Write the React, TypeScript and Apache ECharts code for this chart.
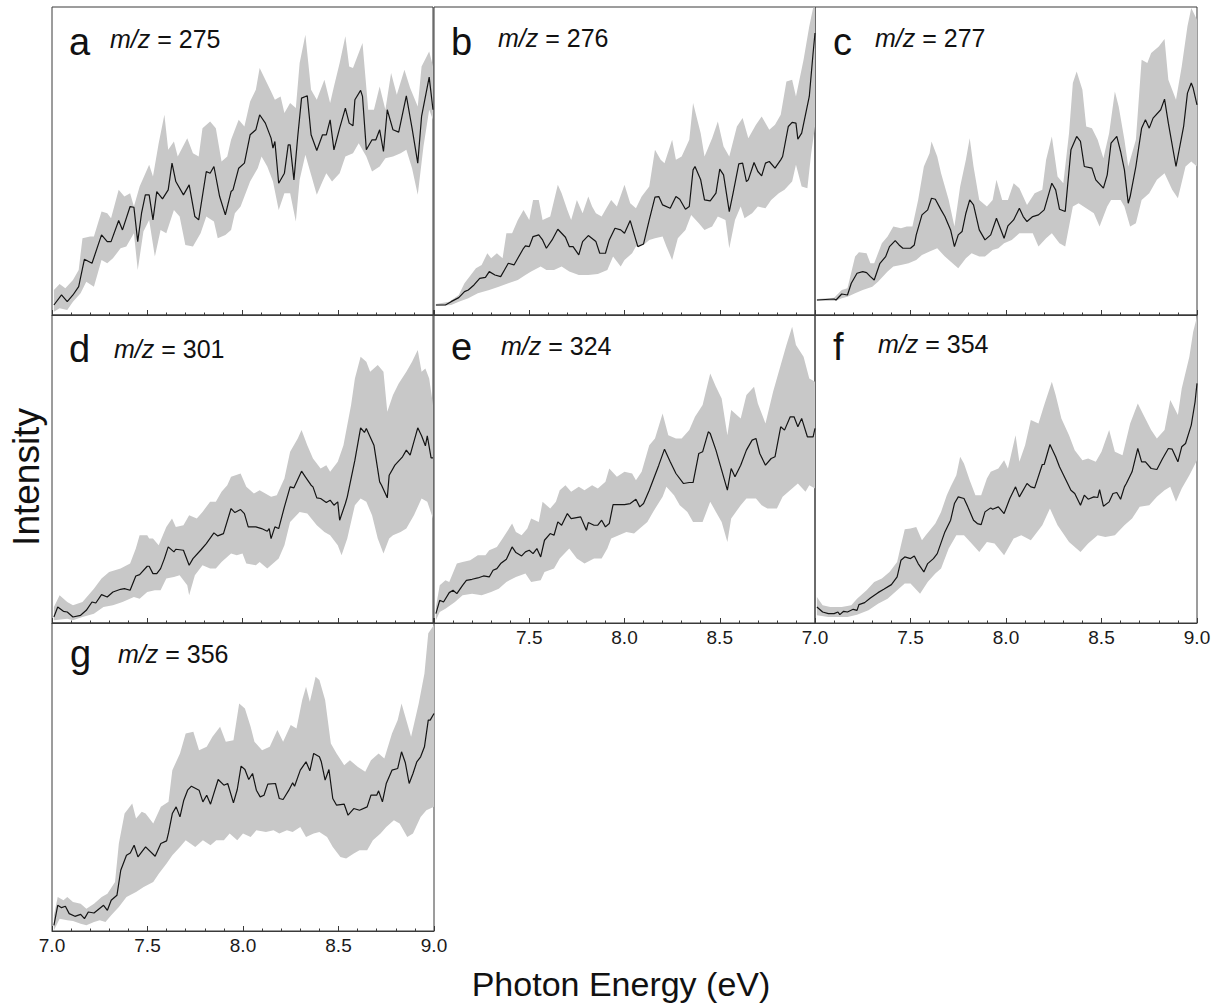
import React, { useEffect, useRef } from 'react';
import * as echarts from 'echarts';

const FONT = '"Liberation Sans", Arial, Helvetica, sans-serif';

// Axis settings
const X_MIN = 7.0;
const X_MAX = 9.0;
const X_MAJOR = 0.5;
const Y_MAX = 92.3; // arbitrary intensity units

const LETTERS = ['a', 'b', 'c', 'd', 'e', 'f', 'g'];
const MZ = [275, 276, 277, 301, 324, 354, 356];

// ---- panel a, m/z 275 ----
const A_MEAN = [[7.01,3.0],[7.05,6.0],[7.08,4.0],[7.11,6.0],[7.14,8.5],[7.17,16.7],[7.21,15.5],[7.26,24.0],[7.29,22.0],[7.31,22.0],[7.35,28.3],[7.37,25.5],[7.41,32.5],[7.43,32.3],[7.45,22.0],[7.47,30.5],[7.49,36.0],[7.51,36.0],[7.53,28.5],[7.55,37.0],[7.58,34.8],[7.61,37.5],[7.63,45.5],[7.65,40.0],[7.69,36.0],[7.72,39.0],[7.75,29.5],[7.77,28.5],[7.81,43.0],[7.83,42.5],[7.85,44.5],[7.88,35.5],[7.91,30.0],[7.94,37.0],[7.95,37.5],[7.98,44.0],[8.01,45.5],[8.04,54.0],[8.07,55.5],[8.09,60.0],[8.12,57.5],[8.15,53.0],[8.16,50.0],[8.17,52.0],[8.19,39.5],[8.22,42.5],[8.24,51.0],[8.25,51.0],[8.27,40.5],[8.29,53.5],[8.31,65.0],[8.34,65.7],[8.36,54.0],[8.39,49.3],[8.42,54.0],[8.44,54.0],[8.46,58.5],[8.48,49.5],[8.51,56.0],[8.54,62.0],[8.56,57.5],[8.58,56.7],[8.59,64.5],[8.62,67.3],[8.63,65.5],[8.65,49.5],[8.68,52.5],[8.70,52.5],[8.72,55.5],[8.74,49.0],[8.76,61.5],[8.79,55.5],[8.82,54.8],[8.86,65.7],[8.89,56.0],[8.92,45.5],[8.94,59.5],[8.98,71.3],[9.00,61.5]];
const A_UPPER = [[7.01,7.5],[7.04,9.3],[7.07,8.0],[7.11,10.5],[7.14,13.5],[7.16,23.0],[7.20,23.5],[7.22,23.5],[7.26,31.0],[7.29,30.5],[7.31,29.0],[7.35,37.5],[7.38,35.5],[7.41,36.5],[7.43,32.5],[7.46,38.5],[7.51,45.0],[7.53,41.5],[7.56,51.5],[7.59,60.0],[7.61,49.5],[7.64,52.0],[7.66,47.5],[7.71,53.0],[7.74,48.5],[7.77,47.5],[7.79,56.0],[7.83,58.0],[7.86,56.0],[7.89,46.0],[7.92,47.5],[7.94,52.5],[7.98,58.5],[8.01,56.5],[8.04,64.0],[8.07,67.5],[8.09,74.0],[8.12,70.5],[8.15,67.0],[8.17,64.5],[8.20,65.5],[8.22,60.5],[8.25,63.5],[8.28,62.0],[8.30,75.5],[8.33,84.0],[8.36,67.5],[8.39,64.5],[8.43,70.5],[8.46,63.5],[8.48,68.5],[8.51,75.5],[8.54,83.5],[8.56,74.5],[8.58,74.0],[8.61,78.5],[8.63,81.5],[8.66,61.5],[8.69,61.5],[8.72,68.5],[8.75,61.5],[8.78,72.5],[8.81,66.0],[8.85,73.5],[8.88,68.0],[8.92,62.5],[8.94,74.5],[8.98,79.0],[9.00,74.5]];
const A_LOWER = [[7.01,1.0],[7.04,2.0],[7.08,1.5],[7.11,4.0],[7.15,6.5],[7.18,10.0],[7.22,8.5],[7.26,16.5],[7.29,15.5],[7.32,17.0],[7.36,20.0],[7.39,20.5],[7.43,24.5],[7.45,13.5],[7.48,25.0],[7.51,28.5],[7.54,17.5],[7.57,25.5],[7.60,24.5],[7.64,31.5],[7.67,29.5],[7.70,21.0],[7.74,20.5],[7.78,24.5],[7.81,29.5],[7.85,28.0],[7.87,23.0],[7.91,24.0],[7.94,25.5],[7.96,30.5],[7.99,32.5],[8.04,40.0],[8.08,44.0],[8.10,47.5],[8.13,44.5],[8.16,40.0],[8.19,31.5],[8.22,36.5],[8.25,36.5],[8.28,28.0],[8.30,40.5],[8.33,48.0],[8.36,42.0],[8.39,36.0],[8.42,40.0],[8.44,42.5],[8.47,40.0],[8.51,42.5],[8.54,47.5],[8.58,48.5],[8.61,51.5],[8.65,47.5],[8.68,43.0],[8.72,44.5],[8.75,47.0],[8.79,47.5],[8.83,48.5],[8.86,49.5],[8.89,44.0],[8.92,36.0],[8.95,50.5],[8.98,61.5],[9.00,58.5]];

// ---- panel b, m/z 276 ----
const B_MEAN = [[7.01,3.0],[7.06,3.0],[7.09,4.0],[7.13,5.2],[7.16,7.0],[7.18,7.5],[7.21,9.0],[7.24,11.0],[7.27,11.3],[7.29,13.0],[7.32,12.0],[7.35,11.5],[7.37,13.5],[7.39,15.5],[7.42,15.0],[7.44,17.0],[7.47,20.0],[7.48,20.7],[7.50,20.5],[7.52,23.5],[7.55,24.0],[7.57,22.5],[7.59,20.0],[7.62,22.5],[7.65,25.7],[7.69,23.3],[7.71,20.5],[7.73,20.5],[7.76,18.0],[7.78,22.0],[7.81,23.8],[7.85,22.0],[7.87,18.5],[7.90,18.5],[7.92,22.5],[7.95,26.0],[7.98,25.5],[8.00,24.5],[8.03,28.3],[8.07,20.5],[8.10,21.3],[8.13,28.5],[8.16,35.3],[8.18,35.5],[8.20,33.0],[8.24,32.0],[8.27,35.5],[8.29,34.7],[8.32,31.7],[8.34,32.5],[8.36,43.5],[8.37,44.5],[8.40,40.5],[8.42,34.5],[8.45,34.2],[8.48,36.5],[8.50,43.7],[8.52,42.0],[8.55,31.0],[8.57,36.5],[8.60,45.3],[8.62,45.5],[8.64,40.0],[8.65,40.5],[8.68,45.7],[8.70,43.0],[8.72,41.7],[8.74,45.5],[8.76,46.0],[8.79,44.0],[8.82,46.5],[8.83,47.5],[8.86,56.5],[8.88,57.7],[8.90,57.5],[8.91,52.7],[8.93,54.5],[8.97,65.5],[8.99,78.5],[9.00,84.5]];
const B_UPPER = [[7.01,3.3],[7.08,4.0],[7.13,6.0],[7.16,9.5],[7.20,12.5],[7.22,14.0],[7.25,15.0],[7.28,18.5],[7.30,17.0],[7.33,18.5],[7.36,17.0],[7.38,24.5],[7.41,24.5],[7.44,28.5],[7.47,31.5],[7.50,28.5],[7.52,34.5],[7.55,34.5],[7.57,28.5],[7.61,29.5],[7.65,39.0],[7.67,36.5],[7.70,31.5],[7.72,28.5],[7.75,34.5],[7.78,30.5],[7.81,35.5],[7.83,32.5],[7.85,30.5],[7.88,29.5],[7.91,32.5],[7.93,34.5],[7.96,32.5],[8.00,39.0],[8.03,33.5],[8.06,32.0],[8.09,35.5],[8.13,38.5],[8.16,49.5],[8.19,46.5],[8.21,45.5],[8.25,52.5],[8.27,46.5],[8.30,47.5],[8.34,52.5],[8.36,63.5],[8.40,54.5],[8.42,47.5],[8.46,53.0],[8.49,58.0],[8.52,50.5],[8.55,47.5],[8.59,56.5],[8.62,59.0],[8.65,53.0],[8.69,57.0],[8.72,59.5],[8.76,55.5],[8.79,57.0],[8.82,60.0],[8.85,70.0],[8.88,70.5],[8.90,65.5],[8.94,76.5],[8.97,86.5],[8.99,92.0],[9.00,92.3]];
const B_LOWER = [[7.01,2.7],[7.09,3.0],[7.13,4.0],[7.18,5.0],[7.23,6.5],[7.29,7.5],[7.34,8.5],[7.39,9.5],[7.44,10.5],[7.48,12.0],[7.51,13.0],[7.56,14.5],[7.59,13.5],[7.63,13.5],[7.67,14.5],[7.71,13.0],[7.76,12.0],[7.81,12.0],[7.86,12.3],[7.91,13.5],[7.94,17.5],[7.98,14.5],[8.00,16.5],[8.04,18.5],[8.06,20.5],[8.10,21.0],[8.13,22.5],[8.16,23.0],[8.20,23.5],[8.22,20.5],[8.25,16.5],[8.28,23.0],[8.32,25.5],[8.35,30.0],[8.39,27.5],[8.42,25.5],[8.46,26.5],[8.49,29.5],[8.53,28.5],[8.55,20.0],[8.58,28.5],[8.61,32.5],[8.63,29.0],[8.67,30.5],[8.70,32.5],[8.74,32.0],[8.77,34.5],[8.81,36.5],[8.84,37.5],[8.88,40.0],[8.90,45.0],[8.93,38.5],[8.96,38.0],[8.98,48.5],[9.00,56.5]];

// ---- panel c, m/z 277 ----
const C_MEAN = [[7.01,4.5],[7.10,4.8],[7.11,4.5],[7.14,6.3],[7.17,6.0],[7.19,9.5],[7.22,12.5],[7.25,13.0],[7.27,12.7],[7.29,11.5],[7.31,10.5],[7.34,15.5],[7.37,17.5],[7.39,20.5],[7.42,22.3],[7.44,21.0],[7.46,20.0],[7.50,20.0],[7.52,21.0],[7.53,24.0],[7.56,30.0],[7.59,31.5],[7.61,35.0],[7.63,34.7],[7.66,31.5],[7.68,29.5],[7.71,25.5],[7.73,20.5],[7.75,24.0],[7.77,25.0],[7.79,30.5],[7.81,34.5],[7.83,33.0],[7.86,25.5],[7.89,22.5],[7.92,24.0],[7.95,29.0],[7.99,23.0],[8.01,26.7],[8.04,28.5],[8.07,32.0],[8.09,29.5],[8.11,28.0],[8.14,29.5],[8.17,30.0],[8.20,31.5],[8.24,39.5],[8.26,37.5],[8.28,31.7],[8.31,31.0],[8.34,49.5],[8.37,53.5],[8.39,52.0],[8.41,44.5],[8.45,44.0],[8.47,40.5],[8.51,38.0],[8.53,42.0],[8.55,51.5],[8.58,53.5],[8.60,49.0],[8.62,43.5],[8.64,33.5],[8.65,35.5],[8.68,44.5],[8.71,56.0],[8.73,58.5],[8.75,56.0],[8.77,59.0],[8.81,61.5],[8.83,64.7],[8.85,57.5],[8.89,44.5],[8.93,56.5],[8.95,66.5],[8.97,69.5],[8.98,68.0],[9.00,63.0]];
const C_UPPER = [[7.01,4.8],[7.10,5.2],[7.14,7.5],[7.17,8.0],[7.21,17.5],[7.23,18.8],[7.27,18.5],[7.29,15.5],[7.31,15.5],[7.35,21.5],[7.38,23.5],[7.41,26.5],[7.45,26.0],[7.48,26.5],[7.51,26.5],[7.54,34.5],[7.57,44.5],[7.60,48.5],[7.61,52.0],[7.64,47.5],[7.66,42.5],[7.70,34.5],[7.73,26.5],[7.76,38.5],[7.79,46.5],[7.81,53.0],[7.83,44.5],[7.86,34.5],[7.90,32.5],[7.93,34.5],[7.95,40.5],[7.98,34.5],[8.01,34.5],[8.04,39.5],[8.07,38.0],[8.11,33.0],[8.15,36.5],[8.19,37.5],[8.21,46.5],[8.24,53.5],[8.27,41.5],[8.30,39.5],[8.33,54.5],[8.35,69.5],[8.37,73.0],[8.40,67.5],[8.42,56.5],[8.45,56.0],[8.48,52.5],[8.51,47.0],[8.54,54.5],[8.57,67.0],[8.59,62.5],[8.62,52.5],[8.64,44.5],[8.68,52.5],[8.71,76.5],[8.74,75.5],[8.76,78.5],[8.80,80.5],[8.83,82.7],[8.85,70.5],[8.89,64.5],[8.92,74.5],[8.95,86.5],[8.97,92.0],[9.00,88.5]];
const C_LOWER = [[7.01,4.2],[7.11,4.3],[7.14,5.0],[7.17,5.5],[7.21,6.5],[7.25,7.5],[7.30,8.5],[7.33,10.0],[7.38,13.0],[7.41,14.5],[7.45,15.0],[7.49,15.5],[7.53,16.5],[7.56,18.0],[7.60,19.0],[7.64,20.0],[7.68,17.5],[7.72,15.5],[7.75,14.0],[7.79,17.0],[7.82,18.5],[7.86,17.5],[7.89,17.5],[7.93,19.5],[7.96,20.0],[7.99,21.5],[8.03,22.5],[8.07,24.5],[8.10,24.5],[8.14,24.5],[8.17,20.5],[8.21,23.0],[8.24,24.5],[8.28,21.5],[8.31,20.5],[8.35,32.5],[8.38,33.5],[8.42,32.0],[8.46,30.5],[8.49,26.5],[8.53,32.5],[8.55,34.5],[8.60,34.5],[8.62,32.5],[8.65,26.5],[8.68,27.5],[8.71,34.5],[8.75,36.5],[8.79,40.5],[8.83,42.5],[8.87,37.5],[8.90,35.0],[8.94,44.5],[8.97,46.0],[9.00,44.5]];

// ---- panel d, m/z 301 ----
const D_MEAN = [[7.01,1.8],[7.03,4.8],[7.06,3.5],[7.08,3.3],[7.11,1.8],[7.15,2.3],[7.18,3.8],[7.21,6.3],[7.23,6.0],[7.26,8.5],[7.29,7.8],[7.32,9.3],[7.36,10.1],[7.38,10.3],[7.41,9.8],[7.44,14.1],[7.46,14.5],[7.50,17.0],[7.51,17.0],[7.53,14.8],[7.55,14.8],[7.57,16.3],[7.59,19.3],[7.61,22.8],[7.64,21.3],[7.65,22.1],[7.69,21.8],[7.72,17.3],[7.74,19.3],[7.78,21.8],[7.81,23.8],[7.85,27.0],[7.87,26.1],[7.90,26.8],[7.94,34.3],[7.96,33.1],[7.99,34.0],[8.01,32.8],[8.03,28.8],[8.07,28.8],[8.10,28.3],[8.13,27.5],[8.14,28.3],[8.15,25.3],[8.17,28.8],[8.19,28.3],[8.22,34.8],[8.25,40.8],[8.27,40.5],[8.31,45.5],[8.33,43.8],[8.36,41.3],[8.37,40.8],[8.39,37.5],[8.41,37.3],[8.44,36.1],[8.46,36.8],[8.48,35.3],[8.50,36.3],[8.51,30.8],[8.54,35.8],[8.55,37.8],[8.59,48.8],[8.62,58.5],[8.64,57.1],[8.65,58.3],[8.69,53.3],[8.72,42.3],[8.73,41.3],[8.76,37.5],[8.77,44.3],[8.80,47.3],[8.84,49.8],[8.86,51.8],[8.88,50.3],[8.92,58.5],[8.94,56.1],[8.96,53.1],[8.97,56.1],[8.99,49.5],[9.00,49.5]];
const D_UPPER = [[7.01,4.8],[7.04,8.3],[7.08,6.3],[7.11,5.3],[7.16,6.3],[7.22,10.3],[7.26,13.3],[7.30,15.3],[7.36,16.3],[7.41,17.8],[7.44,22.3],[7.46,26.3],[7.50,26.3],[7.51,25.3],[7.53,25.3],[7.56,23.3],[7.60,28.8],[7.63,31.3],[7.65,28.8],[7.69,29.3],[7.72,32.3],[7.76,31.3],[7.79,33.3],[7.83,36.3],[7.86,36.3],[7.89,39.3],[7.92,41.3],[7.94,43.8],[7.99,44.8],[8.02,40.8],[8.06,38.8],[8.09,39.8],[8.15,37.8],[8.18,38.3],[8.22,43.3],[8.25,51.3],[8.29,55.3],[8.31,57.8],[8.34,53.3],[8.37,49.3],[8.41,46.3],[8.44,47.3],[8.46,45.3],[8.50,48.3],[8.53,53.3],[8.57,65.3],[8.59,73.3],[8.62,79.8],[8.65,78.3],[8.67,75.3],[8.71,77.3],[8.74,75.3],[8.76,63.3],[8.79,68.3],[8.82,71.8],[8.86,75.3],[8.89,78.3],[8.92,81.8],[8.94,75.3],[8.96,76.3],[8.98,73.3],[9.00,65.3]];
const D_LOWER = [[7.01,0.8],[7.08,1.3],[7.11,0.8],[7.16,1.8],[7.22,2.8],[7.27,4.8],[7.32,5.3],[7.37,6.3],[7.43,7.8],[7.46,7.3],[7.50,9.3],[7.54,9.8],[7.57,9.8],[7.60,13.3],[7.64,13.8],[7.67,14.3],[7.71,11.3],[7.72,8.3],[7.75,14.3],[7.79,17.3],[7.83,16.3],[7.86,16.3],[7.89,18.3],[7.94,20.8],[7.97,20.3],[8.00,20.8],[8.02,17.8],[8.07,17.3],[8.09,18.3],[8.13,16.3],[8.16,17.8],[8.19,19.3],[8.22,23.3],[8.25,30.3],[8.30,33.3],[8.34,32.8],[8.39,29.3],[8.43,27.3],[8.46,26.3],[8.50,23.3],[8.52,20.3],[8.55,25.3],[8.59,35.3],[8.62,37.3],[8.65,36.3],[8.68,32.3],[8.71,25.3],[8.74,20.8],[8.77,25.3],[8.79,26.3],[8.83,27.3],[8.86,28.3],[8.90,32.3],[8.94,37.3],[8.97,36.3],[9.00,31.3]];

// ---- panel e, m/z 324 ----
const E_MEAN = [[7.01,2.8],[7.03,6.8],[7.05,6.3],[7.08,9.1],[7.10,9.8],[7.12,8.8],[7.15,11.3],[7.17,12.8],[7.20,13.1],[7.23,13.5],[7.26,14.1],[7.29,13.8],[7.31,15.8],[7.33,16.3],[7.35,17.8],[7.38,19.1],[7.41,22.8],[7.43,21.1],[7.46,20.1],[7.48,21.3],[7.50,21.8],[7.52,20.8],[7.54,22.3],[7.56,19.8],[7.58,24.8],[7.61,26.8],[7.63,26.3],[7.65,30.3],[7.67,29.3],[7.70,32.8],[7.72,31.3],[7.77,31.8],[7.80,27.8],[7.81,30.1],[7.84,29.3],[7.86,29.3],[7.88,30.8],[7.90,28.8],[7.92,29.8],[7.94,35.5],[8.00,35.5],[8.03,35.8],[8.06,37.1],[8.08,34.8],[8.10,35.8],[8.13,39.8],[8.18,47.3],[8.21,52.1],[8.24,48.3],[8.27,44.8],[8.31,41.8],[8.34,42.1],[8.36,42.1],[8.39,50.8],[8.41,51.3],[8.44,57.3],[8.45,56.8],[8.48,51.8],[8.51,45.8],[8.54,39.8],[8.56,46.3],[8.58,43.8],[8.61,47.3],[8.64,51.8],[8.67,54.8],[8.69,55.3],[8.71,50.8],[8.74,47.3],[8.77,49.3],[8.79,49.8],[8.82,58.8],[8.84,57.8],[8.87,61.8],[8.89,61.8],[8.91,58.8],[8.93,61.3],[8.96,55.8],[8.99,55.8],[9.00,58.3]];
const E_UPPER = [[7.01,4.8],[7.03,11.3],[7.06,12.8],[7.08,12.3],[7.12,17.8],[7.15,18.3],[7.19,18.8],[7.23,20.3],[7.27,20.3],[7.29,21.8],[7.33,22.8],[7.36,25.3],[7.41,29.8],[7.43,27.3],[7.46,26.3],[7.49,28.3],[7.51,31.3],[7.55,30.3],[7.57,36.3],[7.61,34.3],[7.64,36.3],[7.66,39.8],[7.69,41.3],[7.72,39.3],[7.76,40.8],[7.79,39.8],[7.83,41.3],[7.86,40.3],[7.90,42.3],[7.92,46.3],[7.96,43.8],[8.00,45.3],[8.04,44.8],[8.06,42.8],[8.09,45.3],[8.13,53.3],[8.16,55.3],[8.20,62.8],[8.23,56.3],[8.27,55.3],[8.30,55.3],[8.34,57.8],[8.37,61.8],[8.41,65.3],[8.45,74.8],[8.48,70.8],[8.51,67.3],[8.54,56.3],[8.56,63.8],[8.61,61.3],[8.64,68.3],[8.68,70.8],[8.70,65.8],[8.74,59.8],[8.78,69.3],[8.82,77.3],[8.85,83.3],[8.88,88.8],[8.90,83.3],[8.94,79.8],[8.97,73.3],[9.00,72.3]];
const E_LOWER = [[7.01,0.8],[7.03,3.3],[7.06,4.3],[7.11,6.3],[7.15,8.3],[7.20,8.8],[7.25,8.3],[7.30,9.3],[7.34,10.3],[7.38,12.3],[7.43,13.8],[7.48,14.8],[7.51,12.3],[7.56,12.8],[7.58,15.3],[7.63,16.3],[7.66,19.3],[7.71,22.3],[7.75,19.3],[7.79,17.8],[7.84,19.3],[7.88,19.3],[7.91,22.3],[7.93,25.3],[7.97,26.3],[8.01,27.3],[8.05,26.8],[8.08,28.3],[8.12,30.3],[8.15,33.3],[8.20,37.8],[8.22,40.8],[8.26,38.3],[8.29,35.3],[8.33,33.3],[8.36,30.3],[8.41,30.3],[8.45,36.3],[8.48,33.3],[8.51,30.3],[8.54,24.3],[8.56,31.3],[8.61,35.3],[8.64,37.3],[8.69,37.3],[8.72,35.3],[8.75,34.3],[8.80,34.3],[8.83,37.8],[8.88,40.3],[8.91,41.8],[8.95,39.3],[8.97,41.3],[9.00,40.3]];

// ---- panel f, m/z 354 ----
const F_MEAN = [[7.01,4.8],[7.04,3.3],[7.07,2.8],[7.10,2.8],[7.12,3.3],[7.13,2.5],[7.15,3.5],[7.17,3.3],[7.20,4.1],[7.22,3.8],[7.23,5.5],[7.26,6.1],[7.29,7.5],[7.33,9.1],[7.36,10.1],[7.40,11.5],[7.43,13.8],[7.45,18.8],[7.47,19.8],[7.50,19.3],[7.52,20.1],[7.54,17.8],[7.57,15.3],[7.59,17.8],[7.62,19.3],[7.64,20.8],[7.68,27.3],[7.71,30.8],[7.73,35.8],[7.75,37.8],[7.78,37.3],[7.80,34.8],[7.83,30.8],[7.85,29.8],[7.87,29.5],[7.89,33.3],[7.92,34.5],[7.93,34.1],[7.96,34.8],[7.99,32.8],[8.02,37.3],[8.05,40.8],[8.07,37.8],[8.11,41.8],[8.13,40.8],[8.15,40.5],[8.19,47.5],[8.20,47.5],[8.23,53.5],[8.26,49.8],[8.28,46.8],[8.31,43.3],[8.34,39.8],[8.36,38.8],[8.39,35.3],[8.41,38.3],[8.43,37.1],[8.46,37.8],[8.48,37.6],[8.49,40.0],[8.51,35.0],[8.54,36.3],[8.56,38.8],[8.58,39.1],[8.60,37.1],[8.62,40.8],[8.63,41.8],[8.66,45.3],[8.69,52.3],[8.71,48.3],[8.73,48.3],[8.76,46.3],[8.79,46.0],[8.82,49.3],[8.85,52.3],[8.87,52.1],[8.90,48.3],[8.92,52.8],[8.94,53.8],[8.97,59.3],[8.99,66.3],[9.00,71.8]];
const F_UPPER = [[7.01,7.8],[7.04,5.3],[7.08,4.8],[7.14,4.8],[7.19,5.3],[7.22,7.3],[7.27,9.8],[7.31,12.3],[7.35,13.3],[7.39,15.3],[7.43,18.3],[7.45,23.3],[7.47,28.1],[7.50,28.3],[7.53,28.8],[7.56,24.8],[7.58,26.3],[7.63,29.8],[7.66,33.3],[7.69,38.3],[7.71,40.8],[7.74,44.3],[7.76,49.8],[7.78,47.8],[7.81,42.8],[7.84,38.3],[7.87,38.3],[7.90,43.3],[7.92,45.3],[7.96,46.3],[7.99,48.8],[8.01,46.3],[8.05,56.3],[8.07,48.3],[8.10,53.3],[8.13,60.8],[8.17,59.8],[8.20,65.3],[8.24,72.3],[8.26,68.3],[8.29,61.3],[8.33,56.3],[8.36,51.8],[8.40,48.8],[8.43,49.3],[8.47,48.3],[8.50,51.3],[8.54,57.8],[8.57,51.3],[8.61,50.3],[8.65,59.8],[8.69,65.8],[8.72,62.3],[8.76,57.8],[8.79,55.3],[8.83,57.8],[8.86,66.8],[8.90,62.3],[8.92,70.3],[8.96,79.8],[8.98,87.3],[9.00,91.8]];
const F_LOWER = [[7.01,2.3],[7.07,1.8],[7.12,1.8],[7.17,1.8],[7.22,2.5],[7.28,3.8],[7.33,5.8],[7.38,7.3],[7.43,9.8],[7.47,11.8],[7.50,11.8],[7.55,8.8],[7.59,12.3],[7.63,14.8],[7.66,16.3],[7.70,22.3],[7.74,26.3],[7.78,26.3],[7.82,23.8],[7.86,21.3],[7.90,24.3],[7.94,23.8],[7.99,20.3],[8.04,25.3],[8.08,26.3],[8.13,24.8],[8.19,29.3],[8.23,34.3],[8.27,29.3],[8.33,24.3],[8.39,21.3],[8.43,23.8],[8.48,26.3],[8.52,25.8],[8.57,26.3],[8.62,29.3],[8.66,31.3],[8.70,34.8],[8.75,35.3],[8.79,37.8],[8.83,39.8],[8.86,40.8],[8.89,36.3],[8.92,40.3],[8.96,44.3],[9.00,48.8]];

// ---- panel g, m/z 356 ----
const G_MEAN = [[7.01,1.7],[7.03,7.7],[7.05,7.0],[7.07,7.4],[7.09,5.2],[7.12,4.4],[7.15,5.0],[7.17,3.7],[7.19,5.7],[7.22,5.4],[7.27,7.7],[7.29,6.2],[7.31,9.2],[7.34,10.7],[7.36,18.2],[7.39,22.7],[7.41,23.4],[7.43,25.7],[7.45,22.2],[7.49,25.2],[7.54,22.4],[7.57,26.2],[7.60,27.0],[7.61,29.4],[7.63,35.2],[7.65,37.2],[7.67,34.2],[7.69,39.2],[7.71,42.2],[7.73,43.4],[7.77,42.2],[7.79,38.7],[7.81,40.7],[7.83,38.0],[7.87,45.4],[7.90,43.7],[7.92,44.2],[7.95,38.4],[7.97,42.4],[7.99,49.4],[8.01,48.4],[8.03,45.4],[8.05,47.2],[8.07,42.2],[8.09,40.2],[8.11,40.7],[8.13,44.0],[8.17,44.2],[8.19,39.7],[8.21,39.4],[8.24,42.2],[8.26,44.4],[8.27,43.4],[8.30,48.2],[8.33,50.7],[8.35,48.0],[8.37,53.2],[8.40,52.2],[8.41,50.7],[8.43,45.2],[8.45,48.4],[8.47,39.7],[8.49,37.7],[8.53,38.0],[8.55,34.7],[8.58,36.7],[8.61,36.2],[8.65,37.2],[8.67,40.7],[8.70,40.7],[8.71,42.0],[8.73,38.7],[8.75,44.2],[8.78,48.2],[8.81,48.7],[8.83,53.7],[8.85,50.4],[8.87,44.2],[8.89,47.2],[8.91,50.7],[8.93,52.2],[8.95,55.2],[8.97,63.2],[8.98,63.2],[9.00,65.2]];
const G_UPPER = [[7.01,4.7],[7.03,10.2],[7.06,9.2],[7.08,10.2],[7.11,8.7],[7.15,8.2],[7.18,6.7],[7.22,8.2],[7.26,10.2],[7.29,11.2],[7.33,14.7],[7.35,26.2],[7.38,35.2],[7.42,38.2],[7.44,33.7],[7.47,35.7],[7.49,35.2],[7.53,32.2],[7.57,37.2],[7.61,38.7],[7.63,48.2],[7.67,53.2],[7.70,59.2],[7.74,59.7],[7.77,54.2],[7.81,55.2],[7.84,58.2],[7.88,61.2],[7.91,56.7],[7.95,57.2],[7.98,68.2],[8.01,66.7],[8.04,61.2],[8.06,56.7],[8.10,54.2],[8.14,55.2],[8.18,60.2],[8.21,56.7],[8.25,61.7],[8.28,60.7],[8.31,69.2],[8.33,73.2],[8.35,68.7],[8.38,76.2],[8.40,75.2],[8.43,69.2],[8.46,56.2],[8.49,53.2],[8.53,49.7],[8.56,51.2],[8.60,49.2],[8.64,47.7],[8.67,51.2],[8.71,53.2],[8.74,51.7],[8.78,59.2],[8.81,63.2],[8.83,68.2],[8.86,62.2],[8.88,58.2],[8.92,68.2],[8.95,77.2],[8.97,89.2],[9.00,91.7]];
const G_LOWER = [[7.01,0.2],[7.04,3.7],[7.08,3.2],[7.11,3.0],[7.15,2.2],[7.18,1.7],[7.22,2.7],[7.25,3.2],[7.28,2.7],[7.31,4.7],[7.35,7.2],[7.39,10.2],[7.44,11.7],[7.48,13.2],[7.53,14.7],[7.56,17.2],[7.60,20.2],[7.63,22.7],[7.67,25.2],[7.70,27.2],[7.75,25.2],[7.79,27.2],[7.83,25.7],[7.86,27.2],[7.90,27.2],[7.93,29.2],[7.97,27.2],[8.00,29.2],[8.04,28.2],[8.07,30.2],[8.12,29.7],[8.16,30.2],[8.19,29.2],[8.23,30.2],[8.26,29.7],[8.30,31.2],[8.33,28.2],[8.37,29.2],[8.40,29.7],[8.44,28.2],[8.47,25.2],[8.51,22.2],[8.54,21.7],[8.58,23.2],[8.61,24.2],[8.65,24.2],[8.68,27.2],[8.72,29.2],[8.75,31.2],[8.79,33.2],[8.82,32.2],[8.86,28.2],[8.89,29.2],[8.93,34.2],[8.96,36.2],[9.00,37.2]];

const MEANS = [A_MEAN, B_MEAN, C_MEAN, D_MEAN, E_MEAN, F_MEAN, G_MEAN];
const UPPERS = [A_UPPER, B_UPPER, C_UPPER, D_UPPER, E_UPPER, F_UPPER, G_UPPER];
const LOWERS = [A_LOWER, B_LOWER, C_LOWER, D_LOWER, E_LOWER, F_LOWER, G_LOWER];

// Layout (pixels)
const LAYOUT = [
  { left: 52, top: 7, width: 381, height: 308, labels: 'none', letter: [69, 42], mz: [110, 39] },
  { left: 434, top: 7, width: 381, height: 308, labels: 'none', letter: [451, 42], mz: [498, 38] },
  { left: 815, top: 7, width: 382, height: 308, labels: 'none', letter: [833, 42], mz: [875, 38] },
  { left: 52, top: 315, width: 381, height: 308, labels: 'none', letter: [69, 349], mz: [114, 349] },
  { left: 434, top: 315, width: 381, height: 308, labels: 'inner', letter: [451, 347], mz: [501, 346] },
  { left: 815, top: 315, width: 382, height: 308, labels: 'all', letter: [833, 347], mz: [878, 344] },
  { left: 52, top: 623, width: 382, height: 308, labels: 'all', letter: [70, 654], mz: [118, 654] },
];

const AXIS_COLOR = '#3a3a3a';
const BAND_COLOR = '#c8c8c8';
const LINE_COLOR = '#141414';

export default function App() {
  const ref = useRef<HTMLDivElement>(null);

  useEffect(() => {
    if (!ref.current) return;
    const chart = echarts.init(ref.current, undefined, { renderer: 'svg' });

    const grids = LAYOUT.map((l) => ({
      left: l.left,
      top: l.top,
      width: l.width,
      height: l.height,
      show: true,
      borderColor: AXIS_COLOR,
      borderWidth: 1,
      backgroundColor: 'transparent',
      containLabel: false,
      outerBoundsMode: 'none',
    }));

    const xAxes = LAYOUT.map((l, i) => ({
      type: 'value',
      gridIndex: i,
      min: X_MIN,
      max: X_MAX,
      interval: X_MAJOR,
      axisLine: { show: true, lineStyle: { color: AXIS_COLOR, width: 1 } },
      axisTick: { show: true, inside: true, length: 5, lineStyle: { color: AXIS_COLOR, width: 1 } },
      minorTick: { show: true, splitNumber: 5, length: 2.5, lineStyle: { color: AXIS_COLOR, width: 1 } },
      splitLine: { show: false },
      minorSplitLine: { show: false },
      axisLabel: {
        show: l.labels !== 'none',
        showMinLabel: true,
        showMaxLabel: true,
        margin: 5,
        fontSize: 19,
        fontFamily: FONT,
        color: '#1a1a1a',
        formatter: (v: number) => {
          if (l.labels === 'inner' && (Math.abs(v - X_MIN) < 1e-6 || Math.abs(v - X_MAX) < 1e-6)) return '';
          return v.toFixed(1);
        },
      },
    }));

    const yAxes = LAYOUT.map((_, i) => ({
      type: 'value',
      gridIndex: i,
      min: 0,
      max: Y_MAX,
      show: false,
      splitLine: { show: false },
    }));

    const series: any[] = [];
    LAYOUT.forEach((_, i) => {
      const upper = UPPERS[i];
      const lower = LOWERS[i];
      series.push({
        type: 'custom',
        xAxisIndex: i,
        yAxisIndex: i,
        silent: true,
        z: 1,
        data: [[8, 0]],
        renderItem: (_params: any, api: any) => {
          const pts = upper
            .map((p) => api.coord(p))
            .concat(lower.slice().reverse().map((p) => api.coord(p)));
          return {
            type: 'polygon',
            shape: { points: pts },
            style: { fill: BAND_COLOR, stroke: 'none' },
          };
        },
      });
      series.push({
        type: 'line',
        xAxisIndex: i,
        yAxisIndex: i,
        data: MEANS[i],
        showSymbol: false,
        symbol: 'none',
        silent: true,
        z: 3,
        lineStyle: { color: LINE_COLOR, width: 1.2 },
      });
    });

    const graphics: any[] = [];
    LAYOUT.forEach((l, i) => {
      graphics.push({
        type: 'text',
        x: l.letter[0],
        y: l.letter[1],
        z: 10,
        style: {
          text: LETTERS[i],
          fontSize: 38,
          fontFamily: FONT,
          fill: '#111',
          align: 'left',
          verticalAlign: 'middle',
        },
      });
      graphics.push({
        type: 'text',
        x: l.mz[0],
        y: l.mz[1],
        z: 10,
        style: {
          text: `{i|m/z}{n| = ${MZ[i]}}`,
          fontSize: 25,
          fontFamily: FONT,
          fill: '#111',
          align: 'left',
          verticalAlign: 'middle',
          rich: {
            i: { fontSize: 25, fontFamily: FONT, fontStyle: 'italic', fill: '#111', color: '#111' },
            n: { fontSize: 25, fontFamily: FONT, fill: '#111', color: '#111' },
          },
        },
      });
    });
    graphics.push({
      type: 'text',
      x: 26,
      y: 477,
      rotation: Math.PI / 2,
      style: {
        text: 'Intensity',
        fontSize: 37,
        fontFamily: FONT,
        fill: '#111',
        align: 'center',
        verticalAlign: 'middle',
      },
    });
    graphics.push({
      type: 'text',
      x: 621,
      y: 984,
      style: {
        text: 'Photon Energy (eV)',
        fontSize: 34,
        fontFamily: FONT,
        fill: '#111',
        align: 'center',
        verticalAlign: 'middle',
      },
    });

    chart.setOption({
      animation: false,
      backgroundColor: '#ffffff',
      grid: grids,
      xAxis: xAxes,
      yAxis: yAxes,
      series,
      graphic: graphics,
    });

    return () => chart.dispose();
  }, []);

  return (
    <div
      ref={ref}
      style={{ position: 'absolute', left: 0, top: 0, width: 1211, height: 1008, background: '#fff' }}
    />
  );
}
